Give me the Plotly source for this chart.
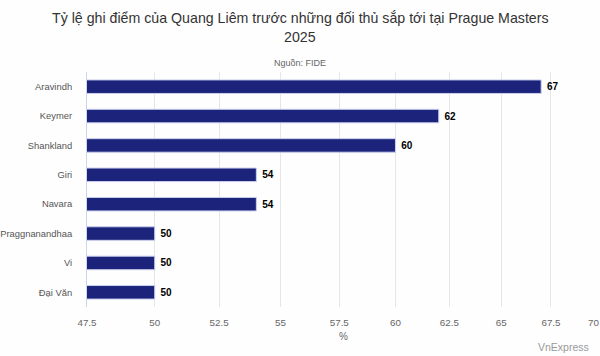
import math
import plotly.graph_objects as go

players = ["Aravindh", "Keymer", "Shankland", "Giri", "Navara", "Praggnanandhaa", "Vi", "Đại Văn"]
scores = [67, 62, 60, 54, 54, 50, 50, 50]
x_ticks = [47.5, 50, 52.5, 55, 57.5, 60, 62.5, 65, 67.5, 70]
x_tick_labels = ["47.5", "50", "52.5", "55", "57.5", "60", "62.5", "65", "67.5", "70"]

title_line1 = "Tỷ lệ ghi điểm của Quang Liêm trước những đối thủ sắp tới tại Prague Masters"
title_line2 = "2025"
subtitle = "Nguồn: FIDE"
x_title = "%"
credit = "VnExpress"

FONT = "Liberation Sans, Arial, sans-serif"

W, H = 600, 356
L, R, T, B = 87, 1, 72, 49
ph = H - T - B

def py(pixel_y):
    return (H - B - pixel_y) / ph

def px(pixel_x):
    return (pixel_x - L) / (W - L - R)

# last tick label is nudged inward (like the original) so it stays inside the page
shown_tick_text = x_tick_labels[:-1] + [x_tick_labels[-1] + "\u00a0\u00a0\u00a0\u00a0"]

fig = go.Figure(
    go.Bar(
        x=scores,
        y=players,
        orientation="h",
        width=0.46,
        marker=dict(color="#1b237b", line=dict(color="#c9cfee", width=1)),
        text=scores,
        texttemplate=" %{text}",
        textposition="outside",
        textfont=dict(family=FONT, size=10, color="#000000", weight="bold"),
        cliponaxis=False,
        hoverinfo="skip",
    )
)

fig.update_layout(
    width=W,
    height=H,
    margin=dict(l=L, r=R, t=T, b=B, autoexpand=False),
    paper_bgcolor="#fefefe",
    plot_bgcolor="#fefefe",
    showlegend=False,
    font=dict(family=FONT),
    xaxis=dict(
        type="log",
        range=[math.log10(x_ticks[0]), math.log10(x_ticks[-1])],
        tickmode="array",
        tickvals=x_ticks,
        ticktext=shown_tick_text,
        showgrid=True,
        gridcolor="#e6e6e6",
        gridwidth=1,
        zeroline=False,
        showline=False,
        ticks="",
        automargin=False,
        ticklabeloverflow="allow",
        ticklabelstandoff=8,
        tickfont=dict(family=FONT, size=9.8, color="#666666"),
        fixedrange=True,
    ),
    yaxis=dict(
        autorange="reversed",
        showgrid=False,
        zeroline=False,
        showline=True,
        linecolor="#ccd6eb",
        linewidth=1,
        ticks="",
        automargin=False,
        ticklabeloverflow="allow",
        ticklabelstandoff=12,
        tickfont=dict(family=FONT, size=9.4, color="#555555"),
        fixedrange=True,
    ),
    annotations=[
        dict(text=title_line1, xref="paper", yref="paper", x=px(W / 2), y=py(18),
             xanchor="center", yanchor="middle", showarrow=False,
             font=dict(family=FONT, size=14.2, color="#333333")),
        dict(text=title_line2, xref="paper", yref="paper", x=px(W / 2), y=py(37),
             xanchor="center", yanchor="middle", showarrow=False,
             font=dict(family=FONT, size=14.2, color="#333333")),
        dict(text=subtitle, xref="paper", yref="paper", x=px(W / 2), y=py(63),
             xanchor="center", yanchor="middle", showarrow=False,
             font=dict(family=FONT, size=9, color="#666666")),
        dict(text=x_title, xref="paper", yref="paper", x=px(343), y=py(336),
             xanchor="center", yanchor="middle", showarrow=False,
             font=dict(family=FONT, size=10, color="#666666")),
        dict(text=credit, xref="paper", yref="paper", x=px(591), y=py(347),
             xanchor="right", yanchor="middle", showarrow=False,
             font=dict(family=FONT, size=10.5, color="#999999")),
    ],
)

fig.write_html(
    "out.html",
    config={"displayModeBar": False},
    post_script="document.body.style.margin='0';",
)
